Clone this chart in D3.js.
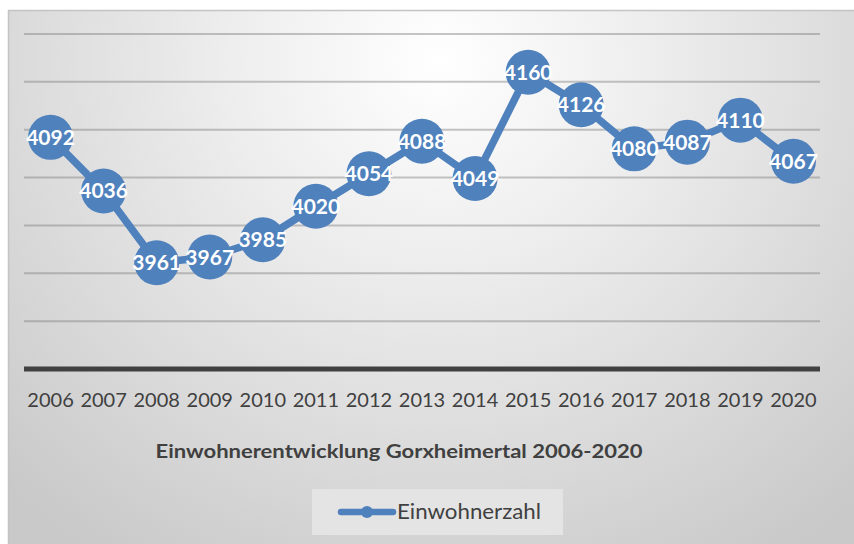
<!DOCTYPE html>
<html>
<head>
<meta charset="utf-8">
<script src="https://cdn.jsdelivr.net/npm/d3@7/dist/d3.min.js"></script>
<style>
  html, body { margin: 0; padding: 0; background: #ffffff; }
  svg { display: block; }
</style>
</head>
<body>
<svg id="chart" width="854" height="544"></svg>
<script>
const years = ["2006","2007","2008","2009","2010","2011","2012","2013","2014","2015","2016","2017","2018","2019","2020"];
const einwohner = [4092, 4036, 3961, 3967, 3985, 4020, 4054, 4088, 4049, 4160, 4126, 4080, 4087, 4110, 4067];
const gridTicks = [3900, 3950, 4000, 4050, 4100, 4150, 4200];
const seriesName = "Einwohnerzahl";
const chartTitle = "Einwohnerentwicklung Gorxheimertal 2006-2020";

const W = 854, H = 544;
const svg = d3.select("#chart");
const font = "Lato, 'Open Sans', sans-serif";
const blue = "#4F81BD";

// background
const defs = svg.append("defs");
const rg = defs.append("radialGradient").attr("id", "bg")
  .attr("gradientUnits", "userSpaceOnUse")
  .attr("cx", 440).attr("cy", 60).attr("r", 620)
  .attr("gradientTransform", "translate(440,60) scale(1,0.95) translate(-440,-60)");
rg.append("stop").attr("offset", "0%").attr("stop-color", "#ffffff");
rg.append("stop").attr("offset", "35%").attr("stop-color", "#ededed");
rg.append("stop").attr("offset", "100%").attr("stop-color", "#c9c9c9");

svg.append("rect").attr("x", 8).attr("y", 10).attr("width", W - 8).attr("height", H - 10)
  .attr("fill", "url(#bg)");
svg.append("line").attr("x1", 8).attr("x2", W).attr("y1", 10.5).attr("y2", 10.5)
  .attr("stroke", "#c4c4c4").attr("stroke-width", 1.5);
svg.append("line").attr("x1", 8.5).attr("x2", 8.5).attr("y1", 10).attr("y2", H)
  .attr("stroke", "#c4c4c4").attr("stroke-width", 1.5);

// scales
const x = d3.scaleBand().domain(years).range([24, 820]).padding(0);
const y = d3.scaleLinear().domain([3850, 4200]).range([369, 34]);
const cx = d => x(d) + x.bandwidth() / 2;

// gridlines
svg.append("g").selectAll("line").data(gridTicks).join("line")
  .attr("x1", 24).attr("x2", 820)
  .attr("y1", d => y(d)).attr("y2", d => y(d))
  .attr("stroke", "rgba(120,120,120,0.42)").attr("stroke-width", 2);

// x axis
const xAxis = svg.append("g").attr("transform", `translate(0,${y(3850)})`)
  .call(d3.axisBottom(x).tickSize(0).tickPadding(0));
xAxis.select(".domain").remove();
xAxis.append("line").attr("x1", 24).attr("x2", 820).attr("y1", 0).attr("y2", 0)
  .attr("stroke", "#404040").attr("stroke-width", 5);
xAxis.selectAll(".tick text")
  .attr("y", 38).attr("dy", 0)
  .attr("font-family", font).attr("font-size", 20).attr("fill", "#404040");

// line
const data = years.map((yr, i) => ({ yr, v: einwohner[i] }));
const lineGen = d3.line().x(d => cx(d.yr)).y(d => y(d.v));
svg.append("path").datum(data).attr("d", lineGen)
  .attr("fill", "none").attr("stroke", blue).attr("stroke-width", 7.5)
  .attr("stroke-linejoin", "round");

// markers
svg.append("g").selectAll("circle").data(data).join("circle")
  .attr("cx", d => cx(d.yr)).attr("cy", d => y(d.v)).attr("r", 22.5)
  .attr("fill", blue);

// labels
svg.append("g").selectAll("text").data(data).join("text")
  .attr("x", d => cx(d.yr)).attr("y", d => y(d.v) + 7.5)
  .attr("text-anchor", "middle")
  .attr("font-family", font).attr("font-weight", "bold").attr("font-size", 21)
  .attr("fill", "#ffffff")
  .text(d => d.v);

// title
svg.append("text").attr("x", 399).attr("y", 458).attr("text-anchor", "middle")
  .attr("font-family", font).attr("font-weight", "bold").attr("font-size", 19.5)
  .attr("fill", "#404040")
  .attr("textLength", 487).attr("lengthAdjust", "spacingAndGlyphs")
  .text(chartTitle);

// legend
const lg = svg.append("g");
lg.append("rect").attr("x", 312).attr("y", 489).attr("width", 251).attr("height", 46)
  .attr("fill", "#e4e4e4");
lg.append("line").attr("x1", 341).attr("x2", 393).attr("y1", 512).attr("y2", 512)
  .attr("stroke", blue).attr("stroke-width", 6.5).attr("stroke-linecap", "round");
lg.append("circle").attr("cx", 367).attr("cy", 512).attr("r", 6).attr("fill", blue);
lg.append("text").attr("x", 397).attr("y", 519)
  .attr("font-family", font).attr("font-size", 21).attr("fill", "#404040")
  .attr("textLength", 144).attr("lengthAdjust", "spacingAndGlyphs")
  .text(seriesName);
</script>
</body>
</html>
